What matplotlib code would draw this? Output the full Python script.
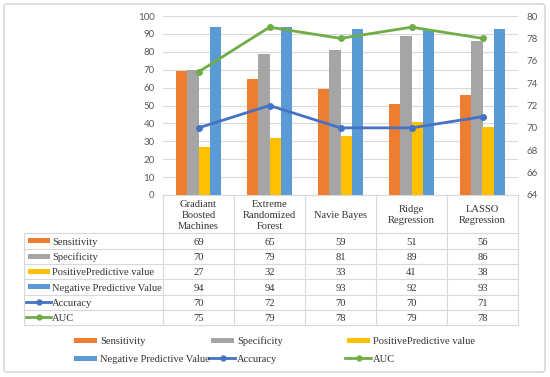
import matplotlib.pyplot as plt
from matplotlib.patches import Rectangle, FancyBboxPatch
from matplotlib.lines import Line2D
import numpy as np

models = ['Gradiant\nBoosted\nMachines', 'Extreme\nRandomized\nForest', 'Navie Bayes',
          'Ridge\nRegression', 'LASSO\nRegression']
sensitivity = [69, 65, 59, 51, 56]
specificity = [70, 79, 81, 89, 86]
ppv = [27, 32, 33, 41, 38]
npv = [94, 94, 93, 92, 93]
accuracy = [70, 72, 70, 70, 71]
auc = [75, 79, 78, 79, 78]

bar_names = ['Sensitivity', 'Specificity', 'PositivePredictive value', 'Negative Predictive Value']
bar_vals = [sensitivity, specificity, ppv, npv]
bar_cols = ['#ED7D31', '#A5A5A5', '#FFC000', '#5B9BD5']
line_names = ['Accuracy', 'AUC']
line_vals = [accuracy, auc]
line_cols = ['#4472C4', '#70AD47']

W, H = 550, 377
fig = plt.figure(figsize=(5.5, 3.77), dpi=100)

# overlay in pixel coords for frame, table and legend
ov = fig.add_axes([0, 0, 1, 1], zorder=0)
ov.set_xlim(0, W)
ov.set_ylim(H, 0)
ov.axis('off')
ov.add_patch(FancyBboxPatch((4, 4), 541, 368, boxstyle='round,pad=0,rounding_size=3',
                            fc='white', ec='#d9d9d9', lw=1.2))

# main plot area
px_l, px_r, px_t, px_b = 163, 518, 16, 195
ax = fig.add_axes([px_l / W, 1 - px_b / H, (px_r - px_l) / W, (px_b - px_t) / H], zorder=2)
ax.patch.set_alpha(0)
x = np.arange(len(models))
w = 0.155
for i, (vals, c) in enumerate(zip(bar_vals, bar_cols)):
    ax.bar(x + (i - 1.5) * w, vals, w, color=c, zorder=3)
ax.set_xlim(-0.5, len(models) - 0.5)
ax.set_ylim(0, 100)
ax.set_yticks(range(0, 101, 10))
ax.yaxis.grid(True, color='#d9d9d9', lw=0.8, zorder=0)
ax.set_xticks([])
for s in ['top', 'left', 'right']:
    ax.spines[s].set_visible(False)
ax.spines['bottom'].set_color('#d9d9d9')
ax.tick_params(axis='y', length=0, pad=6, labelsize=7, labelcolor='#595959')
for t in ax.get_yticklabels():
    t.set_fontfamily('Lato')

ax2 = ax.twinx()
for vals, c in zip(line_vals, line_cols):
    ax2.plot(x, vals, color=c, lw=2, marker='o', ms=4, zorder=4)
ax2.set_ylim(64, 80)
ax2.set_yticks(range(64, 81, 2))
for s in ax2.spines.values():
    s.set_visible(False)
ax2.tick_params(axis='y', length=0, pad=6, labelsize=7, labelcolor='#595959')
for t in ax2.get_yticklabels():
    t.set_fontfamily('Lato')

# data table
gc = '#d9d9d9'
tc = '#333333'
serif = 'Liberation Serif'
fs = 7.6
col_w = (px_r - px_l) / len(models)
tab_l = 24
row_top = 233.3
row_h = 15.3
n_rows = len(bar_names) + len(line_names)
tab_b = row_top + n_rows * row_h

for k in range(len(models) + 1):
    xx = px_l + k * col_w
    ov.plot([xx, xx], [px_b, tab_b], color=gc, lw=0.8)
ov.plot([tab_l, tab_l], [row_top, tab_b], color=gc, lw=0.8)
for r in range(n_rows + 1):
    yy = row_top + r * row_h
    ov.plot([tab_l, px_r], [yy, yy], color=gc, lw=0.8)

for k, m in enumerate(models):
    ov.text(px_l + (k + 0.5) * col_w, (px_b + row_top) / 2 + 1, m, ha='center', va='center',
            family=serif, fontsize=fs, color=tc, linespacing=1.3)


def key(xk, yk, kind, color, length=22):
    if kind == 'bar':
        ov.add_patch(Rectangle((xk, yk - 2.5), length, 5, color=color, lw=0))
    else:
        ov.add_line(Line2D([xk - 2, xk + length + 1], [yk, yk], color=color, lw=2))
        ov.plot(xk + length / 2, yk, 'o', color=color, ms=3.5)


all_names = bar_names + line_names
all_vals = bar_vals + line_vals
all_cols = bar_cols + line_cols
kinds = ['bar'] * len(bar_names) + ['line'] * len(line_names)
for r, (nm, vals, c, kd) in enumerate(zip(all_names, all_vals, all_cols, kinds)):
    yc = row_top + (r + 0.5) * row_h
    key(28, yc, kd, c)
    ov.text(52, yc + 3.8, nm, ha='left', va='baseline', family=serif, fontsize=fs, color=tc)
    for k, v in enumerate(vals):
        ov.text(px_l + (k + 0.5) * col_w, yc + 3.8, str(v), ha='center', va='baseline',
                family=serif, fontsize=fs, color=tc)

# legend below
leg_x = [74, 211, 347]
leg_y = [340, 358]
for i, (nm, c, kd) in enumerate(zip(all_names, all_cols, kinds)):
    lx = leg_x[i % 3]
    ly = leg_y[i // 3]
    key(lx, ly, kd, c, length=23)
    ov.text(lx + 26, ly + 3.8, nm, ha='left', va='baseline', family=serif, fontsize=fs, color=tc)

fig.savefig('out.png', dpi=100)
